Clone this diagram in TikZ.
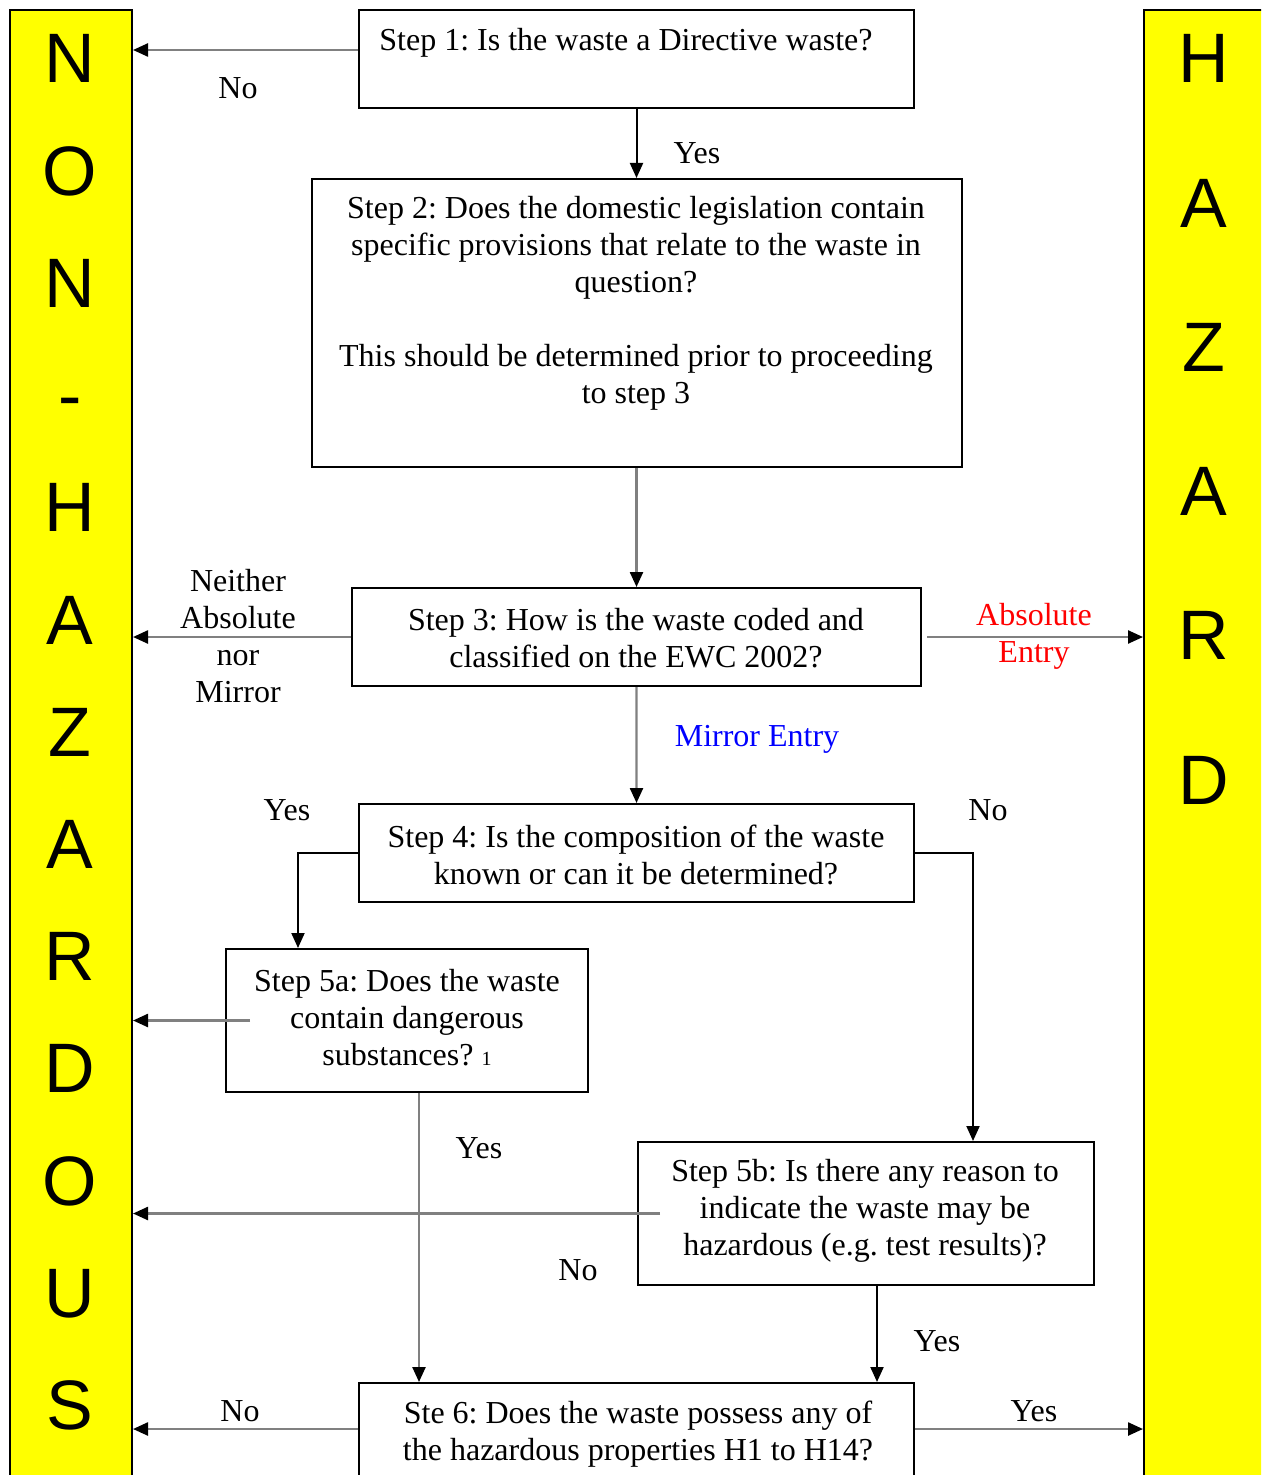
\documentclass[tikz,border=0pt]{standalone}
\usepackage{fontspec}
\setmainfont{Liberation Serif}
\newfontfamily\barfont{Liberation Sans}
\usetikzlibrary{arrows.meta}
\definecolor{lgray}{RGB}{128,128,128}
\definecolor{ylw}{RGB}{255,255,0}
\definecolor{mred}{RGB}{255,0,0}
\definecolor{mblue}{RGB}{0,0,255}
\frenchspacing
\begin{document}
\begin{tikzpicture}[x=1bp,y=-1bp,
  box/.style={draw=black,line width=2bp,fill=white,anchor=north west,inner sep=0},
  txt/.style={align=center,font=\fontsize{32bp}{37bp}\selectfont,inner sep=0},
  big/.style={font=\barfont\fontsize{70bp}{70bp}\selectfont,inner sep=0,anchor=base},
  gline/.style={draw=lgray,line width=2.4bp,-{Triangle[length=15bp,width=13bp,color=black]}},
  bline/.style={draw=black,line width=2bp,-{Triangle[length=15bp,width=13bp,color=black]}}]
\useasboundingbox (0,0) rectangle (1261,1475);
\fill[white] (0,0) rectangle (1261,1475);
\clip (0,0) rectangle (1261,1475);
% side bars
\node[box,fill=ylw,minimum width=122bp,minimum height=1520bp] (nh) at (9,9) {};
\node[box,fill=ylw,minimum width=150bp,minimum height=1520bp] (hz) at (1143,9) {};
\foreach \ch [count=\i from 0] in {N,O,N,-,H,A,Z,A,R,D,O,U,S}
  \node[big] (nl\i) at (70,{83+112.2*\i}) {\ch};
\foreach \ch [count=\i from 0] in {H,A,Z,A,R,D}
  \node[big] (hl\i) at (1204,{83+144.2*\i}) {\ch};
% boxes
\node[box,minimum width=555bp,minimum height=98bp] (s1) at (358,9) {};
\node[box,minimum width=650bp,minimum height=288bp] (s2) at (311,178) {};
\node[box,minimum width=569bp,minimum height=98bp] (s3) at (351,587) {};
\node[box,minimum width=555bp,minimum height=98bp] (s4) at (358,803) {};
\node[box,minimum width=362bp,minimum height=143bp] (s5a) at (225,948) {};
\node[box,minimum width=456bp,minimum height=143bp] (s5b) at (637,1141) {};
\node[box,minimum width=555bp,minimum height=110bp] (s6) at (358,1382) {};
% box texts
\node[txt] (t1) at (626,43) {Step 1: Is the waste a Directive waste?};
\node[txt] (t2) at (636,303) {Step 2: Does the domestic legislation contain\\specific provisions that relate to the waste in\\question?\\[37bp]This should be determined prior to proceeding\\to step 3};
\node[txt] (t3) at (636,638) {Step 3: How is the waste coded and\\classified on the EWC 2002?};
\node[txt] (t4) at (636,855) {Step 4: Is the composition of the waste\\known or can it be determined?};
\node[txt] (t5a) at (407,1018) {Step 5a: Does the waste\\contain dangerous\\substances? {\fontsize{20bp}{20bp}\selectfont 1}};
\node[txt] (t5b) at (865,1211) {Step 5b: Is there any reason to\\indicate the waste may be\\hazardous (e.g. test results)?};
\node[txt] (t6) at (638,1434) {Ste 6: Does the waste possess any of\\the hazardous properties H1 to H14?};
% helper coordinates
\coordinate (y1) at (0,50);
\coordinate (y6) at (0,1429);
\coordinate (x4l) at (298,0);
\coordinate (x4r) at (973,0);
\coordinate (x5a) at (419,0);
\coordinate (x5b) at (877,0);
% connectors
\draw[gline] (s1.west |- y1) -- (nh.east |- y1);
\draw[bline] (s1.south) -- (s1.south |- s2.north);
\draw[gline] (s3.north |- s2.south) -- (s3.north);
\draw[gline] (s3.west) -- (nh.east |- s3.west);
\draw[gline] ([xshift=5bp]s3.east) -- (hz.west |- s3.east);
\draw[gline] (s3.south) -- (s4.north);
\draw[bline] (s4.west) -| (s5a.north -| x4l);
\draw[bline] (s4.east) -| (s5b.north -| x4r);
\draw[gline] ([xshift=25bp]s5a.west) -- (nh.east |- s5a.west);
\draw[gline] (s5a.south -| x5a) -- (s6.north -| x5a);
\draw[gline] ([xshift=23bp]s5b.west) -- (nh.east |- s5b.west);
\draw[bline] (s5b.south -| x5b) -- (s6.north -| x5b);
\draw[gline] (s6.west |- y6) -- (nh.east |- y6);
\draw[gline] (s6.east |- y6) -- (hz.west |- y6);
% labels
\node[txt] (l1) at (238,88) {No};
\node[txt] (l2) at (697,153) {Yes};
\node[txt] (l3) at (238,636) {Neither\\Absolute\\nor\\Mirror};
\node[txt,text=mred] (l4) at (1034,636) {Absolute\\Entry};
\node[txt,text=mblue] (l5) at (757,739) {Mirror Entry};
\node[txt] (l6) at (287,810) {Yes};
\node[txt] (l7) at (988,810) {No};
\node[txt] (l8) at (479,1148) {Yes};
\node[txt] (l9) at (578,1270) {No};
\node[txt] (l10) at (937,1341) {Yes};
\node[txt] (l11) at (240,1411) {No};
\node[txt] (l12) at (1034,1411) {Yes};
\end{tikzpicture}
\end{document}
